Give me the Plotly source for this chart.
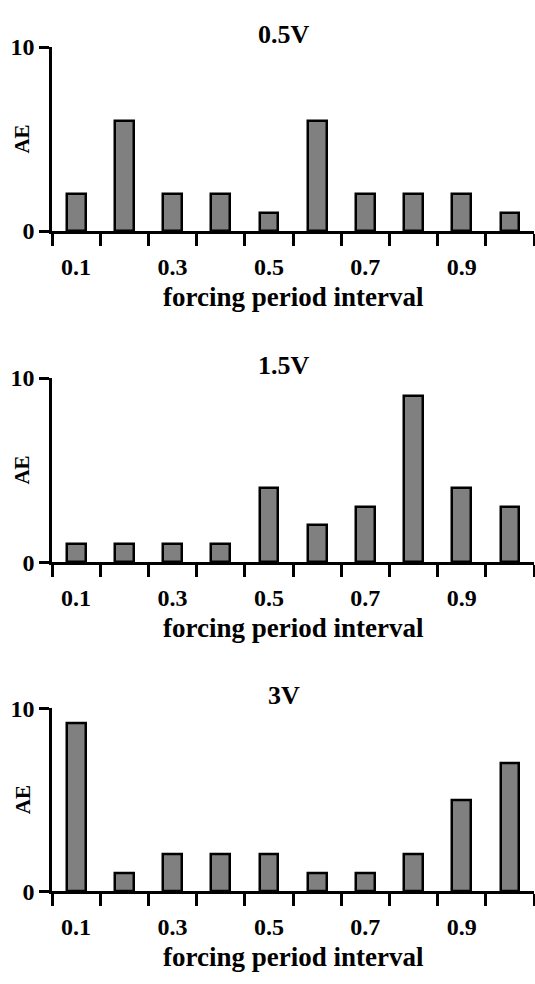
import plotly.graph_objects as go

# ---- data ----
intervals = [0.1, 0.2, 0.3, 0.4, 0.5, 0.6, 0.7, 0.8, 0.9, 1.0]
ae_05v = [2, 6, 2, 2, 1, 6, 2, 2, 2, 1]
ae_15v = [1, 1, 1, 1, 4, 2, 3, 9, 4, 3]
ae_3v = [9.2, 1, 2, 2, 2, 1, 1, 2, 5, 7]
panel_titles = ["0.5V", "1.5V", "3V"]
x_label_vals = [0.1, 0.3, 0.5, 0.7, 0.9]
x_label_text = ["0.1", "0.3", "0.5", "0.7", "0.9"]
bin_edges = [0.05, 0.15, 0.25, 0.35, 0.45, 0.55, 0.65, 0.75, 0.85, 0.95, 1.05]
y_tick_vals = [0, 10]
y_tick_text = ["0", "10"]
x_title = "forcing period interval"
y_title = "AE"

series = [ae_05v, ae_15v, ae_3v]

W, H = 535, 984
FONT = "Liberation Serif, Times New Roman, Times, serif"
# plot areas in pixels (top, bottom)
panels_px = [(35, 224), (375, 564), (714, 902)]
x_left, x_right = 52, 534

fig = go.Figure()
annotations = []
for i, (vals, (top, bot)) in enumerate(zip(series, panels_px)):
    n = i + 1
    xa = "x" if n == 1 else f"x{n}"
    ya = "y" if n == 1 else f"y{n}"
    fig.add_trace(go.Bar(
        x=intervals, y=vals, xaxis=xa, yaxis=ya,
        width=0.039,
        marker=dict(color="#808080", line=dict(color="black", width=2.5)),
        showlegend=False, hoverinfo="x+y",
    ))
    dom_y = [1 - bot / H, 1 - top / H]
    dom_x = [x_left / W, x_right / W]
    xkey = "xaxis" if n == 1 else f"xaxis{n}"
    ykey = "yaxis" if n == 1 else f"yaxis{n}"
    fig.update_layout(**{
        xkey: dict(
            domain=dom_x, anchor=ya, range=[0.05, 1.05],
            tickmode="array", tickvals=x_label_vals, ticktext=x_label_text,
            ticks="outside", ticklen=12, tickcolor="rgba(0,0,0,0)",
            showline=True, linecolor="black", linewidth=2.5,
            showgrid=False, zeroline=False,
            tickfont=dict(family=FONT, size=24, color="black", weight="bold"),
            minor=dict(tickmode="array", tickvals=bin_edges, ticks="outside",
                       ticklen=12, tickwidth=2.5, tickcolor="black", showgrid=False),
        ),
        ykey: dict(
            domain=dom_y, anchor=xa, range=[0, 10],
            tickmode="array", tickvals=y_tick_vals, ticktext=y_tick_text,
            ticks="outside", ticklen=10, tickwidth=2.5, tickcolor="black",
            showline=True, linecolor="black", linewidth=2.5,
            showgrid=False, zeroline=False,
            tickfont=dict(family=FONT, size=24, color="black", weight="bold"),
        ),
    })
    # panel title
    annotations.append(dict(
        text=panel_titles[i], xref="paper", yref="paper",
        x=284 / W, y=1 - (top - 13) / H, xanchor="center", yanchor="middle",
        showarrow=False, font=dict(family=FONT, size=26, color="black", weight="bold"),
    ))
    # x title
    annotations.append(dict(
        text=x_title, xref="paper", yref="paper",
        x=293 / W, y=1 - (bot + 68) / H, xanchor="center", yanchor="middle",
        showarrow=False, font=dict(family=FONT, size=27, color="black", weight="bold"),
    ))
    # y title
    annotations.append(dict(
        text=y_title, xref="paper", yref="paper", textangle=-90,
        x=22.5 / W, y=1 - ((top + bot) / 2) / H, xanchor="center", yanchor="middle",
        showarrow=False, font=dict(family=FONT, size=21, color="black", weight="bold"),
    ))

fig.update_layout(
    width=W, height=H,
    margin=dict(l=0, r=0, t=0, b=0),
    paper_bgcolor="white", plot_bgcolor="white",
    annotations=annotations, bargap=0,
)
fig.write_html("out.html", config={"displayModeBar": False},
               post_script="document.body.style.margin='0';")
